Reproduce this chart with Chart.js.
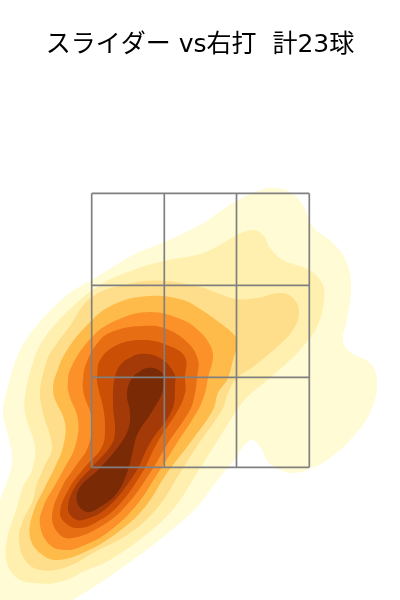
<!DOCTYPE html>
<html>
<head>
<meta charset="utf-8">
<style>
  html, body { margin: 0; padding: 0; background: #fff; }
  #box { width: 400px; height: 600px; }
</style>
<script src="https://cdn.jsdelivr.net/npm/chart.js@4"></script>
</head>
<body>
<div id="box"><canvas id="chartKde" width="400" height="600"></canvas></div>
<script>
const titleText = 'スライダー vs右打  計23球';

// strike zone lines
const zoneX = [-54.15, -17.85, 18.25, 54.65];
const zoneY = [66.35, 111.35, 157.3, 203.3];

// density bands, outermost first: [x, y]
const band1 = [[-96.5,105],[-91.5,121.5],[-83.5,135],[-66.5,152.5],[-54,160],[-33.5,172.5],[-18,179],[0,187.5],[16.5,198.5],[30,205],[37.5,206],[45,204],[51.5,197.5],[56.5,186.5],[66.5,178.5],[73.5,168.5],[75.5,156.5],[73.5,140],[71.5,130],[75,124],[85,118.5],[88.5,109],[85,93.5],[75,80],[63.5,70],[53.5,65],[46.5,63.5],[40,65],[34,69],[31,75],[26.5,80],[21.5,76.5],[18,71],[10,61.5],[-1.5,46.5],[-16,33.5],[-33.5,20],[-50,8.5],[-63.5,0],[-80,-10],[-105,0],[-105,35],[-100,50],[-95,63.5],[-94,71.5],[-96,82.5],[-98.5,93.5]];
const band2 = [[-87,105],[-83.5,119],[-78.5,130],[-66.5,144],[-50,157.5],[-33.5,165],[-18,169.5],[0,173],[10,177.5],[18.5,182.5],[26.5,185],[31.5,182.5],[35,176],[41.5,170],[54.5,165],[61,158.5],[62,150],[58.5,136.5],[50,125],[45,120],[35,111],[23.5,101.5],[18.5,95],[8,78.5],[-1.5,63.5],[-12.5,46.5],[-26,33.5],[-45,20],[-56.5,15],[-70,9],[-83.5,8.5],[-91.5,11],[-96.5,18.5],[-96.5,30],[-91.5,46.5],[-88.5,56.5],[-84,65],[-82.5,76.5],[-87.5,93.5]];
const band3 = [[-80,105],[-76.5,120],[-71.5,128.5],[-66.5,135],[-54,151.5],[-33.5,158.5],[-18,159.5],[0,156.5],[8.5,153.5],[18,150.5],[28.5,151],[40,153.5],[46.5,151],[49.5,144],[46.5,135],[38.5,126.5],[26.5,116.5],[18.5,111],[14,103.5],[11,95],[-0.5,78.5],[-10,63.5],[-21,46.5],[-35,33.5],[-53.5,23.5],[-66.5,16.5],[-80,15],[-87.5,20],[-90.5,30],[-89,38.5],[-83.5,50],[-82,56.5],[-78,66.5],[-74,76.5],[-78.5,93.5]];
const band4 = [[-73.5,105],[-68.5,121.5],[-54,140],[-41.5,148.5],[-25,152],[-8.5,150],[0,145.5],[10,138.5],[18,131.5],[18.5,127.5],[16.5,120],[14,111],[9,103.5],[6.5,95],[-5,78.5],[-16.5,63.5],[-27.5,46.5],[-41.5,33.5],[-57.5,24],[-71.5,20],[-80,23.5],[-85,31.5],[-83.5,43.5],[-77.5,56.5],[-72.5,66.5],[-68.5,76.5],[-67.5,88.5]];
const band5 = [[-66,105],[-65,115],[-54,131.5],[-41.5,140],[-25,144],[-8.5,140],[0,134],[5,127.5],[6.5,121.5],[4,111],[2.5,103.5],[-1,95],[-11.5,78.5],[-21,63.5],[-32.5,46.5],[-46.5,33.5],[-57.5,27.5],[-66.5,25],[-75,27.5],[-80,37.5],[-78,47.5],[-73,56.5],[-67.5,66.5],[-62.5,76.5],[-61,90]];
const band6 = [[-58.5,105],[-57.5,116.5],[-50,130],[-41.5,135],[-28.5,137],[-18,136],[-6.5,129],[-1,120],[-1.5,111],[-2.5,103.5],[-5,95],[-16,78.5],[-25,63.5],[-37.5,46.5],[-50,36.5],[-63.5,31],[-70,32.5],[-74,41.5],[-69,56.5],[-62.5,66.5],[-56,76.5],[-54,90]];
const band7 = [[-51.5,111.5],[-50,120],[-41.5,127.5],[-28.5,130],[-16.5,127.5],[-7.5,121.5],[-7.5,111],[-7.5,103.5],[-11,95],[-21.5,78.5],[-29,63.5],[-41.5,46.5],[-52.5,38.5],[-60,36],[-66,37.5],[-70,43.5],[-65,56.5],[-57.5,66.5],[-49,76.5],[-47.5,86.5],[-48.5,96.5],[-51,106.5]];
const band8 = [[-38.5,119],[-30,123],[-20,121],[-13,113.5],[-12.5,107.5],[-14,95],[-25,78.5],[-32.5,63.5],[-46,46.5],[-58.5,40],[-64,41.5],[-66,46.5],[-62.5,56.5],[-54,66.5],[-45,76.5],[-42.5,83.5],[-43.5,98.5],[-42.5,111.5]];
const band9 = [[-33.5,111.5],[-26.5,116],[-19,113.5],[-18.5,105],[-23.5,95],[-31,83.5],[-33.5,75],[-36,65],[-41.5,53.5],[-50,46.5],[-56.5,44],[-61.5,49],[-60,56.5],[-51,65],[-41,76.5],[-36,85],[-35,93.5],[-36.5,103.5]];

const bands = [band1, band2, band3, band4, band5, band6, band7, band8, band9];
const bandColors = ['#fffbd5', '#fff0b0', '#fede8a', '#febb4a', '#fb9128', '#e86e14', '#cb4f05', '#a33a07', '#7b2a06'];

const datasets = [];

bands.forEach((band, i) => {
    datasets.push({
        // run past the start so the curve closes without a kink
        data: band.concat(band.slice(0, 2)),
        showLine: true,
        fill: 'shape',
        backgroundColor: bandColors[i],
        borderWidth: 0,
        pointRadius: 0,
        tension: 0.4,
        order: 100 - i
    });
});

// zone lines go on top of the bands
zoneX.forEach(x => {
    datasets.push({ data: [[x, zoneY[0]], [x, zoneY[3]]], showLine: true, borderColor: '#808080', borderWidth: 1.7, pointRadius: 0, order: 1 });
});
zoneY.forEach(y => {
    datasets.push({ data: [[zoneX[0], y], [zoneX[3], y]], showLine: true, borderColor: '#808080', borderWidth: 1.7, pointRadius: 0, order: 1 });
});

new Chart(document.getElementById('chartKde').getContext('2d'), {
    type: 'scatter',
    data: { datasets: datasets },
    options: {
        responsive: false,
        animation: false,
        layout: { padding: 0 },
        scales: {
            x: { display: false, min: -100, max: 100 },
            y: { display: false, min: 0, max: 260 }
        },
        plugins: {
            legend: { display: false },
            tooltip: { enabled: false },
            title: {
                display: true,
                text: titleText,
                color: '#000',
                font: { family: '"DejaVu Sans", "Noto Sans CJK JP", sans-serif', size: 25, weight: 'normal', lineHeight: 1.2 },
                padding: { top: 30, bottom: 20 }
            }
        }
    }
});
</script>
</body>
</html>
